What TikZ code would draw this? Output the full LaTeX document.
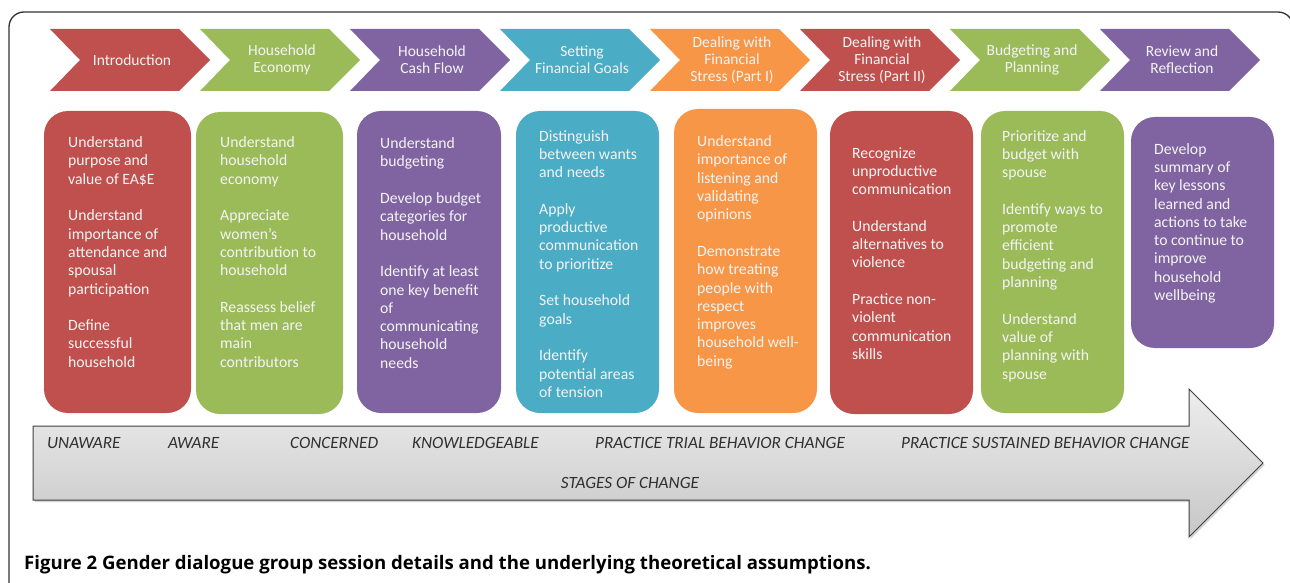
\documentclass[tikz,border=0pt]{standalone}
\usepackage{fontspec}
\setmainfont{Carlito}
\newfontfamily\capfont{Open Sans}
\usetikzlibrary{shadows}
\definecolor{cred}{HTML}{C0504D}
\definecolor{cgreen}{HTML}{9BBB59}
\definecolor{cpurple}{HTML}{8064A2}
\definecolor{cblue}{HTML}{4BACC6}
\definecolor{corange}{HTML}{F79646}
\definecolor{ctext}{HTML}{F4F4F4}
\definecolor{cstage}{HTML}{303030}
\begin{document}
\begin{tikzpicture}[x=1pt,y=-1pt,
  chevtxt/.style={inner sep=0pt, align=center, text=ctext, font=\fontsize{15.5}{17}\selectfont},
  boxtxt/.style={anchor=north west, inner sep=0pt, align=left, text=ctext, font=\fontsize{15.7}{18.3}\selectfont},
  sbox/.style={rounded corners=24pt},
  stagetxt/.style={anchor=base west, inner sep=0pt, text=cstage, font=\fontsize{17.2}{20}\selectfont\itshape},
  ]
\useasboundingbox (0,0) rectangle (1290,583);
\clip (0,0) rectangle (1290,583);
\fill[white] (0,0) rectangle (1290,583);
% frame
\draw[line width=1.3pt, black!80, rounded corners=15pt] (9,12) rectangle (1293,650);

% chevrons
\newcommand{\chev}[3]{%
  \fill[#2] (#1,29) -- ++(129,0) -- ++(31,31) -- ++(-31,31) -- ++(-129,0) -- ++(30,-31) -- cycle;
  \node[chevtxt] (ch#1) at (#1+82,60) {#3};}
\chev{50}{cred}{Introduction}
\chev{200}{cgreen}{Household\\Economy}
\chev{350}{cpurple}{Household\\Cash Flow}
\chev{500}{cblue}{Setting\\Financial Goals}
\chev{650}{corange}{Dealing with\\Financial\\Stress (Part I)}
\chev{800}{cred}{Dealing with\\Financial\\Stress (Part II)}
\chev{950}{cgreen}{Budgeting and\\Planning}
\chev{1100}{cpurple}{Review and\\Reflection}

% boxes
\fill[cred,sbox] (44,111) rectangle (191,413);
\fill[cgreen,sbox] (196,112) rectangle (343,414);
\fill[cpurple,sbox] (357,111) rectangle (501,413);
\fill[cblue,sbox] (516,111) rectangle (659,413);
\fill[corange,sbox] (674,109) rectangle (817,413);
\fill[cred,sbox] (830,111) rectangle (973,414);
\fill[cgreen,sbox] (981,111) rectangle (1124,413);
\fill[cpurple,sbox] (1131,117) rectangle (1274,348);

\node[boxtxt] (t1) at (68,136.5) {Understand\\purpose and\\value of EA\$E\\[18.3pt]Understand\\importance of\\attendance and\\spousal\\participation\\[18.3pt]Define\\successful\\household};
\node[boxtxt] (t2) at (220,136.5) {Understand\\household\\economy\\[18.3pt]Appreciate\\women’s\\contribution to\\household\\[18.3pt]Reassess belief\\that men are\\main\\contributors};
\node[boxtxt] (t3) at (380,137.5) {Understand\\budgeting\\[18.3pt]Develop budget\\categories for\\household\\[18.3pt]Identify at least\\one key benefit\\of\\communicating\\household\\needs};
\node[boxtxt] (t4) at (539,130) {Distinguish\\between wants\\and needs\\[18.3pt]Apply\\productive\\communication\\to prioritize\\[18.3pt]Set household\\goals\\[18.3pt]Identify\\potential areas\\of tension};
\node[boxtxt] (t5) at (697,135.5) {Understand\\importance of\\listening and\\validating\\opinions\\[18.3pt]Demonstrate\\how treating\\people with\\respect\\improves\\household well-\\being};
\node[boxtxt] (t6) at (852,147) {Recognize\\unproductive\\communication\\[18.3pt]Understand\\alternatives to\\violence\\[18.3pt]Practice non-\\violent\\communication\\skills};
\node[boxtxt] (t7) at (1002,130) {Prioritize and\\budget with\\spouse\\[18.3pt]Identify ways to\\promote\\efficient\\budgeting and\\planning\\[18.3pt]Understand\\value of\\planning with\\spouse};
\node[boxtxt] (t8) at (1154,143) {Develop\\summary of\\key lessons\\learned and\\actions to take\\to continue to\\improve\\household\\wellbeing};

% stages arrow
\path[draw=black!75, line width=1pt, top color=black!7, bottom color=black!22,
  drop shadow={opacity=0.35, shadow xshift=1.5pt, shadow yshift=-2pt}]
  (33,426) -- (1189,426) -- (1189,389) -- (1263,463) -- (1189,537) -- (1189,500) -- (33,500) -- cycle;
\node[stagetxt] (s1) at (47,448.5) {UNAWARE};
\node[stagetxt] (s2) at (168,448.5) {AWARE};
\node[stagetxt] (s3) at (290,448.5) {CONCERNED};
\node[stagetxt] (s4) at (412,448.5) {KNOWLEDGEABLE};
\node[stagetxt] (s5) at (595,448.5) {PRACTICE TRIAL BEHAVIOR CHANGE};
\node[stagetxt] (s6) at (901,448.5) {PRACTICE SUSTAINED BEHAVIOR CHANGE};
\node[stagetxt, anchor=base] (sc) at (630,488.5) {STAGES OF CHANGE};

% caption
\node[anchor=base west, inner sep=0pt, font=\capfont\fontsize{18.6}{22}\selectfont\bfseries] (cap) at (24,569) {Figure 2 Gender dialogue group session details and the underlying theoretical assumptions.};
\end{tikzpicture}
\end{document}
